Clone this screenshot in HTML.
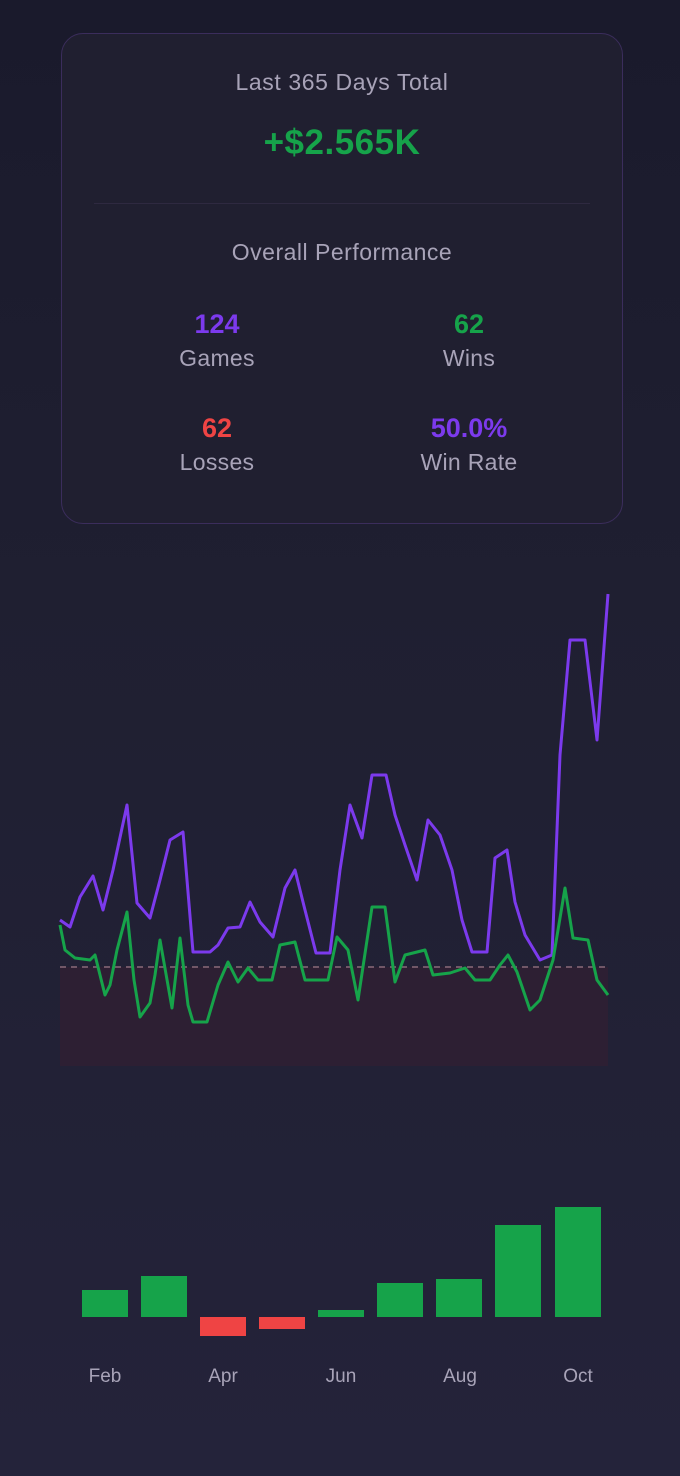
<!DOCTYPE html>
<html><head><meta charset="utf-8"><style>
body{margin:0;width:680px;height:1476px;background:linear-gradient(#1a1a2c,#1f1f31 40%,#24233a);font-family:"Liberation Sans",sans-serif;position:relative;overflow:hidden}
.card{position:absolute;left:61px;top:33px;width:560px;height:489px;border:1.5px solid #3b2d5c;border-radius:22px;background:#201f30}
.t{position:absolute;width:100%;text-align:center;color:#a8a3b8}
.s{position:absolute;width:200px;text-align:center}
.v{font-size:27px;font-weight:bold}
.l{font-size:23px;color:#a8a3b8;margin-top:5px;letter-spacing:0.3px}
.x{position:absolute;top:1366px;color:#a8a3b8;font-size:19px;width:80px;text-align:center}
</style></head><body>
<div class="card">
<div class="t" style="top:35px;font-size:23px;letter-spacing:0.6px">Last 365 Days Total</div>
<div class="t" style="top:89px;font-size:35px;font-weight:bold;color:#16a34a;letter-spacing:0.5px">+$2.565K</div>
<div style="position:absolute;left:32px;right:32px;top:169px;height:1px;background:#2e2940"></div>
<div class="t" style="top:205px;font-size:23px;letter-spacing:0.5px">Overall Performance</div>
<div class="s" style="left:55px;top:275px"><div class="v" style="color:#7c3aed">124</div><div class="l">Games</div></div>
<div class="s" style="left:307px;top:275px"><div class="v" style="color:#16a34a">62</div><div class="l">Wins</div></div>
<div class="s" style="left:55px;top:379px"><div class="v" style="color:#ef4444">62</div><div class="l">Losses</div></div>
<div class="s" style="left:307px;top:379px"><div class="v" style="color:#7c3aed">50.0%</div><div class="l">Win Rate</div></div>
</div>
<svg width="680" height="1476" style="position:absolute;left:0;top:0">
<rect x="60" y="967" width="548" height="99" fill="#2d1f33"/>
<line x1="60" y1="967" x2="608" y2="967" stroke="#8a6a7a" stroke-width="1.5" stroke-dasharray="6,5"/>
<polyline fill="none" stroke="#7c3aed" stroke-width="3" stroke-linejoin="round" points="60,920 70,927 80,897 93,876 103,910 113,870 127,805 137,903 150,918 160,880 170,840 183,832 193,952 210,952 218,945 228,928 240,927 250,902 260,922 273,937 285,888 295,870 305,910 316,953 330,953 340,870 350,805 362,838 372,775 386,775 395,815 405,845 417,880 428,820 440,835 452,870 462,920 472,952 487,952 495,858 507,850 515,902 525,935 540,960 552,955 560,755 570,640 585,640 597,740 608,594"/>
<polyline fill="none" stroke="#16a34a" stroke-width="3" stroke-linejoin="round" points="60,925 65,950 75,958 90,960 95,955 105,995 110,985 117,950 127,912 134,980 140,1017 150,1003 155,975 160,940 172,1008 180,938 188,1005 193,1022 207,1022 218,985 228,962 238,982 248,968 258,980 272,980 280,945 295,942 305,980 328,980 337,937 348,950 358,1000 372,907 385,907 395,982 405,955 425,950 433,975 450,973 465,968 475,980 490,980 500,965 508,955 517,972 530,1010 540,1000 553,960 565,888 573,938 588,940 597,980 608,995"/>
<g fill="#16a34a">
<rect x="82" y="1290" width="46" height="27"/><rect x="141" y="1276" width="46" height="41"/>
<rect x="318" y="1310" width="46" height="7"/><rect x="377" y="1283" width="46" height="34"/>
<rect x="436" y="1279" width="46" height="38"/><rect x="495" y="1225" width="46" height="92"/>
<rect x="555" y="1207" width="46" height="110"/></g>
<g fill="#ef4444"><rect x="200" y="1317" width="46" height="19"/><rect x="259" y="1317" width="46" height="12"/></g>
</svg>
<div class="x" style="left:65px">Feb</div><div class="x" style="left:183px">Apr</div><div class="x" style="left:301px">Jun</div><div class="x" style="left:420px">Aug</div><div class="x" style="left:538px">Oct</div>
</body></html>
